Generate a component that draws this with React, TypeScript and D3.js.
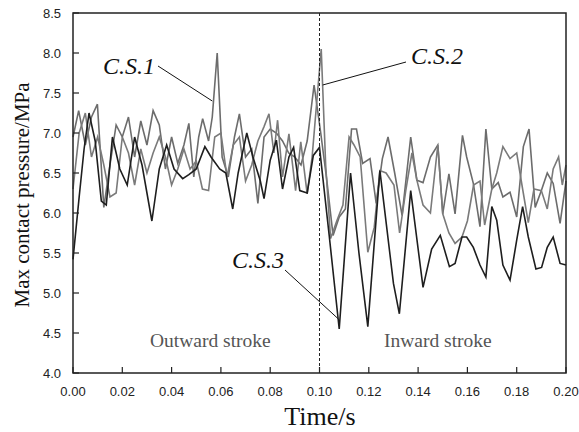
import React from "react";
import * as d3 from "d3";

const cs1Time = [0, 0.0023, 0.005, 0.0075, 0.0099, 0.0125, 0.015, 0.0175, 0.02, 0.0225, 0.025, 0.0275, 0.03, 0.0325, 0.035, 0.0375, 0.04, 0.0425, 0.045, 0.047, 0.049, 0.051, 0.0526, 0.055, 0.0565, 0.0585, 0.0605, 0.063, 0.0655, 0.0675, 0.07, 0.0725, 0.075, 0.0775, 0.08, 0.0825, 0.085, 0.0875, 0.09, 0.0925, 0.095, 0.0978, 0.1005, 0.103, 0.1055, 0.108, 0.1105, 0.113, 0.115, 0.1175, 0.1205, 0.123, 0.1255, 0.1278, 0.1305, 0.1335, 0.137, 0.1395, 0.142, 0.145, 0.148, 0.15, 0.1525, 0.155, 0.158, 0.1597, 0.1624, 0.1651, 0.1675, 0.1699, 0.1725, 0.1744, 0.1773, 0.18, 0.1827, 0.185, 0.1875, 0.19, 0.1924, 0.1948, 0.1976, 0.2];
const cs1Values = [6.95, 7.28, 6.85, 7.2, 7.36, 6.07, 6.6, 7.1, 6.95, 7.2, 6.7, 7.15, 6.85, 7.28, 7.1, 6.55, 6.95, 6.62, 6.85, 7.12, 6.45, 6.95, 7.18, 6.9, 7.2, 8.0, 6.7, 6.45, 6.95, 7.24, 6.7, 6.8, 6.12, 6.95, 7.05, 7.0, 6.9, 6.75, 6.7, 6.6, 6.9, 7.6, 7.0, 6.4, 5.72, 5.95, 6.05, 7.05, 7.05, 6.62, 6.68, 6.12, 6.68, 6.95, 6.5, 5.97, 6.95, 6.41, 6.38, 6.7, 6.85, 5.99, 6.49, 5.99, 6.97, 6.7, 6.37, 5.83, 7.05, 6.3, 6.38, 6.2, 6.26, 5.95, 6.83, 7.05, 6.07, 6.28, 6.5, 6.37, 5.87, 6.4];

const cs2Time = [0, 0.0025, 0.005, 0.0075, 0.01, 0.0125, 0.015, 0.0175, 0.02, 0.0225, 0.025, 0.0275, 0.03, 0.0325, 0.035, 0.0375, 0.04, 0.0425, 0.045, 0.0475, 0.05, 0.0525, 0.055, 0.0575, 0.06, 0.0625, 0.065, 0.0675, 0.07, 0.0725, 0.075, 0.0775, 0.0795, 0.0815, 0.083, 0.085, 0.0876, 0.0903, 0.0924, 0.095, 0.097, 0.1007, 0.1025, 0.1045, 0.107, 0.1095, 0.112, 0.114, 0.1165, 0.1196, 0.1222, 0.1245, 0.127, 0.1302, 0.1325, 0.135, 0.1375, 0.1395, 0.142, 0.145, 0.148, 0.15, 0.1525, 0.155, 0.1578, 0.16, 0.1625, 0.1651, 0.167, 0.1699, 0.1719, 0.1744, 0.1773, 0.18, 0.1824, 0.1847, 0.187, 0.19, 0.1924, 0.1948, 0.197, 0.1985, 0.2];
const cs2Values = [6.3, 7.0, 7.25, 6.7, 6.95, 6.6, 6.2, 6.25, 6.95, 6.75, 6.35, 6.8, 6.5, 6.75, 6.95, 6.7, 6.35, 6.55, 6.8, 6.55, 6.65, 6.3, 6.28, 6.95, 7.0, 6.45, 6.85, 6.95, 6.4, 6.6, 6.9, 7.08, 7.24, 6.75, 7.16, 6.45, 6.99, 6.28, 6.89, 6.24, 6.7, 8.05, 6.6, 5.68, 5.9, 6.1, 6.95, 6.85, 6.7, 5.51, 5.82, 6.53, 6.5, 6.35, 5.75, 6.28, 6.75, 6.41, 6.1, 6.0, 6.85, 5.99, 5.75, 5.62, 5.7, 5.9, 6.35, 6.4, 5.85, 6.3, 6.5, 6.83, 6.68, 6.75, 6.3, 5.88, 6.3, 6.28, 6.05, 6.55, 6.7, 6.35, 6.6];

const cs3Time = [0, 0.0025, 0.0045, 0.0065, 0.009, 0.0115, 0.0135, 0.016, 0.019, 0.022, 0.025, 0.028, 0.032, 0.035, 0.038, 0.041, 0.0445, 0.047, 0.05, 0.0535, 0.056, 0.0595, 0.062, 0.0648, 0.067, 0.0705, 0.073, 0.076, 0.0775, 0.08, 0.0825, 0.085, 0.0876, 0.0895, 0.092, 0.095, 0.0975, 0.1, 0.104, 0.108, 0.1126, 0.116, 0.1196, 0.1245, 0.13, 0.1324, 0.137, 0.142, 0.1455, 0.149, 0.1527, 0.155, 0.1578, 0.1597, 0.1624, 0.1651, 0.1675, 0.1699, 0.1719, 0.1744, 0.1773, 0.18, 0.1824, 0.1847, 0.1878, 0.1901, 0.1924, 0.1948, 0.1976, 0.2];
const cs3Values = [5.42, 6.2, 6.8, 7.25, 6.9, 6.15, 6.1, 6.95, 6.55, 6.35, 6.95, 6.6, 5.9, 6.55, 6.85, 6.55, 6.43, 6.48, 6.55, 6.83, 6.7, 6.55, 6.5, 6.05, 6.5, 7.0, 6.7, 6.4, 6.18, 6.66, 6.91, 6.3, 6.7, 6.82, 6.28, 6.25, 6.72, 6.82, 5.7, 4.55, 6.5, 5.5, 4.58, 6.53, 5.12, 4.74, 6.28, 5.07, 5.55, 5.72, 5.33, 5.37, 5.7, 5.7, 5.57, 5.35, 5.2, 6.08, 5.91, 5.35, 5.16, 5.66, 6.08, 5.7, 5.3, 5.32, 5.57, 5.7, 5.37, 5.35];

const xTicks = [0, 0.02, 0.04, 0.06, 0.08, 0.1, 0.12, 0.14, 0.16, 0.18, 0.2];
const yTicks = [4.0, 4.5, 5.0, 5.5, 6.0, 6.5, 7.0, 7.5, 8.0, 8.5];

const seriesNames = ["C.S.1", "C.S.2", "C.S.3"];
const seriesColors = ["#6c6c6c", "#7a7a7a", "#1e1e1e"];

export default function App() {
  const W = 579, H = 432;
  const left = 73, right = 566, top = 13, bottom = 373;
  const x = d3.scaleLinear().domain([0, 0.2]).range([left, right]);
  const y = d3.scaleLinear().domain([4, 8.5]).range([bottom, top]);
  const line = d3.line<[number, number]>().x(d => x(d[0])).y(d => y(d[1]));
  const series = [
    { t: cs1Time, v: cs1Values },
    { t: cs2Time, v: cs2Values },
    { t: cs3Time, v: cs3Values },
  ];
  const serif = "'Liberation Serif', 'Times New Roman', serif";
  const sans = "'Liberation Sans', Arial, sans-serif";
  return (
    <svg width={W} height={H} style={{ position: "absolute", left: 0, top: 0, background: "#fff" }}>
      <rect x={0} y={0} width={W} height={H} fill="#fff" />
      {series.map((s, i) => (
        <path key={i} d={line(s.t.map((t, j) => [t, s.v[j]] as [number, number])) || ""}
          fill="none" stroke={seriesColors[i]} strokeWidth={1.6} strokeLinejoin="miter" />
      ))}
      <line x1={x(0.1)} x2={x(0.1)} y1={top} y2={bottom} stroke="#222" strokeWidth={1} strokeDasharray="3,2" />
      <rect x={left} y={top} width={right - left} height={bottom - top} fill="none" stroke="#222" strokeWidth={1.5} />
      {xTicks.map(t => (
        <g key={t}>
          <line x1={x(t)} x2={x(t)} y1={bottom} y2={bottom - 6} stroke="#222" strokeWidth={1.2} />
          <text x={x(t)} y={396} textAnchor="middle" fontFamily={sans} fontSize={13} fill="#222">{t.toFixed(2)}</text>
        </g>
      ))}
      {yTicks.map(v => (
        <g key={v}>
          <line x1={left} x2={left + 6} y1={y(v)} y2={y(v)} stroke="#222" strokeWidth={1.2} />
          <text x={61} y={y(v) + 4.5} textAnchor="end" fontFamily={sans} fontSize={13} fill="#222">{v.toFixed(1)}</text>
        </g>
      ))}
      <text x={320} y={425} textAnchor="middle" fontFamily={serif} fontSize={26} fill="#111">Time/s</text>
      <text transform={`translate(29,${(top + bottom) / 2 + 2}) rotate(-90)`} textAnchor="middle" fontFamily={serif} fontSize={21} fill="#111">Max contact pressure/MPa</text>
      <text x={150} y={347} fontFamily={serif} fontSize={19.5} fill="#555">Outward stroke</text>
      <text x={384} y={347} fontFamily={serif} fontSize={19.5} fill="#555">Inward stroke</text>
      <text x={103} y={74} fontFamily={serif} fontStyle="italic" fontSize={24} fill="#111">{seriesNames[0]}</text>
      <line x1={158} y1={66} x2={x(0.0565)} y2={y(7.4)} stroke="#111" strokeWidth={1} />
      <text x={411} y={64} fontFamily={serif} fontStyle="italic" fontSize={24} fill="#111">{seriesNames[1]}</text>
      <line x1={406} y1={62} x2={x(0.1013)} y2={y(7.6)} stroke="#111" strokeWidth={1} />
      <text x={232} y={268} fontFamily={serif} fontStyle="italic" fontSize={24} fill="#111">{seriesNames[2]}</text>
      <line x1={285} y1={270} x2={x(0.1075)} y2={y(4.68)} stroke="#111" strokeWidth={1} />
    </svg>
  );
}
